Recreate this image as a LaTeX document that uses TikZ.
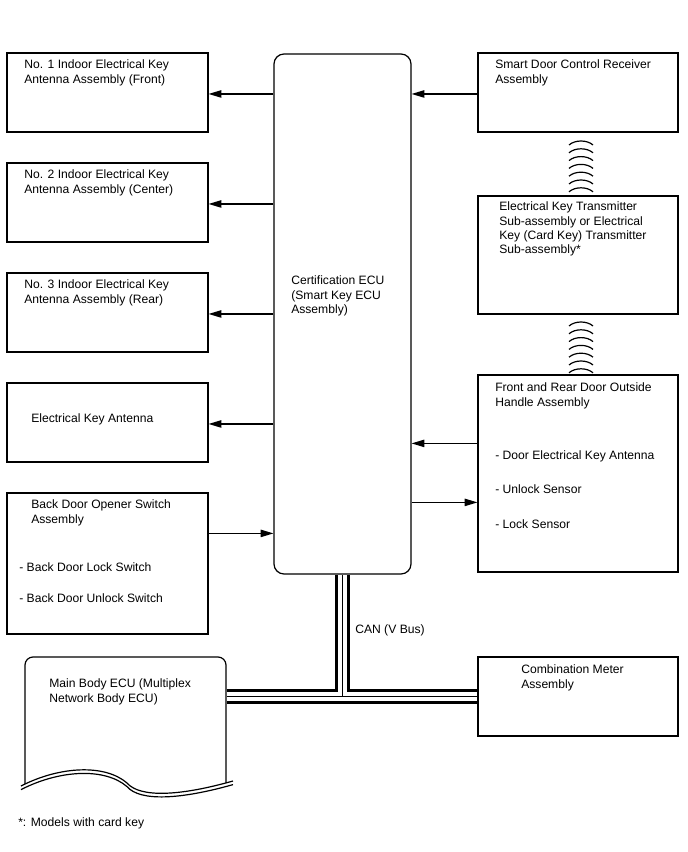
\documentclass[tikz,border=0pt]{standalone}
\usepackage{fontspec}
\setmainfont{Liberation Sans}
\usetikzlibrary{fit,arrows.meta}
\begin{document}
\begin{tikzpicture}[x=0.75pt,y=-0.75pt,
  box/.style={draw,line width=0.9pt,inner sep=0pt},
  lbl/.style={anchor=north west,inner sep=0pt,align=left,font=\fontsize{9.1}{10.8}\selectfont},
  arr/.style={line width=0.9pt,-{Triangle[length=9.5pt,width=5.5pt]}},
  outline/.style={line width=0.9pt},
  busA/.style={line width=11.25pt,black},
  busB/.style={line width=6.6pt,white},
  busC/.style={line width=0.8pt,black}
]
\useasboundingbox (0,0) rectangle (688,852);

% left boxes
\node[box, fit={(7,53) (208,132)}] (b1) {};
\node[box, fit={(7,163) (208,242)}] (b2) {};
\node[box, fit={(7,273) (208,352)}] (b3) {};
\node[box, fit={(7,383) (208,462)}] (b4) {};
\node[box, fit={(7,493) (208,634)}] (b5) {};
% center ECU
\node[box, rounded corners=7.5pt, fit={(274,54) (411,574)}] (ecu) {};
% right boxes
\node[box, fit={(478,53) (678,132)}] (r1) {};
\node[box, fit={(478,196) (678,314)}] (r2) {};
\node[box, fit={(478,375) (678,572)}] (r3) {};
\node[box, fit={(478,657) (678,736)}] (cm) {};

% labels
\node[lbl] (t1) at (24,59.6) {No. 1 Indoor Electrical Key\\Antenna Assembly (Front)};
\node[lbl] (t2) at (24,169.6) {No. 2 Indoor Electrical Key\\Antenna Assembly (Center)};
\node[lbl] (t3) at (24,279.6) {No. 3 Indoor Electrical Key\\Antenna Assembly (Rear)};
\node[lbl] (t4) at (31,413.6) {Electrical Key Antenna};
\node[lbl] (t5) at (31,499.6) {Back Door Opener Switch\\Assembly};
\node[lbl] (t5a) at (19,562.6) {- Back Door Lock Switch};
\node[lbl] (t5b) at (19,593.6) {- Back Door Unlock Switch};
\node[lbl] (tecu) at (291,275.6) {Certification ECU\\(Smart Key ECU\\Assembly)};
\node[lbl] (tr1) at (495,59.6) {Smart Door Control Receiver\\Assembly};
\node[lbl] (tr2) at (499,201.6) {Electrical Key Transmitter\\Sub-assembly or Electrical\\Key (Card Key) Transmitter\\Sub-assembly*};
\node[lbl] (tr3) at (495,382.6) {Front and Rear Door Outside\\Handle Assembly};
\node[lbl] (tr3a) at (495,450.6) {- Door Electrical Key Antenna};
\node[lbl] (tr3b) at (495,484.6) {- Unlock Sensor};
\node[lbl] (tr3c) at (495,519.6) {- Lock Sensor};
\node[lbl] (tcm) at (521,664.6) {Combination Meter\\Assembly};
\node[lbl] (tmb) at (49,678.6) {Main Body ECU (Multiplex\\Network Body ECU)};
\node[lbl] (tcan) at (355,624.6) {CAN (V Bus)};
\node[lbl] (tnote) at (18,817.6) {*: Models with card key};

% arrows
\foreach \b in {b1,b2,b3,b4}{
  \coordinate (\b a) at ([yshift=-1.1pt]\b.east);
  \draw[arr] (ecu.west |- \b a) -- (\b a);
}
\coordinate (b5a) at ([yshift=-30.75pt]b5.north east);
\draw[arr] (b5a) -- (ecu.west |- b5a);
\coordinate (r1a) at ([yshift=-1.1pt]r1.west);
\draw[arr] (r1a) -- (ecu.east |- r1a);
\coordinate (r3a) at ([yshift=-51.75pt]r3.north west);
\coordinate (r3b) at ([yshift=-96pt]r3.north west);
\draw[arr] (r3a) -- (ecu.east |- r3a);
\draw[arr] (ecu.east |- r3b) -- (r3b);

% wireless links
\foreach \y in {141,148.8,156.6,164.4,172.2,180,187.8,322,329.8,337.6,345.4,353.2,361,368.8}
  \draw[outline] (569,\y+4) .. controls (575,\y-1.33) and (587,\y-1.33) .. (593,\y+4);

% main body ECU
\coordinate (mb) at (226,696.5);
\draw[outline, rounded corners=6pt] (25,784) -- (25,657) -- (226,657) -- (226,783);
\foreach \d in {0,3.6}
  \draw[outline] (21,786+\d) .. controls (60,766+\d) and (105,764+\d) .. (127,783+\d)
                 .. controls (140,798+\d) and (180,796+\d) .. (233,781+\d);

% CAN bus
\foreach \s in {busA,busB,busC}{
  \draw[\s, shorten <=0.5pt, shorten >=0.5pt] (mb) -- (cm.west);
  \draw[\s, shorten <=0.5pt] (ecu.south) -- (ecu.south |- cm.west);
}
\end{tikzpicture}
\end{document}
